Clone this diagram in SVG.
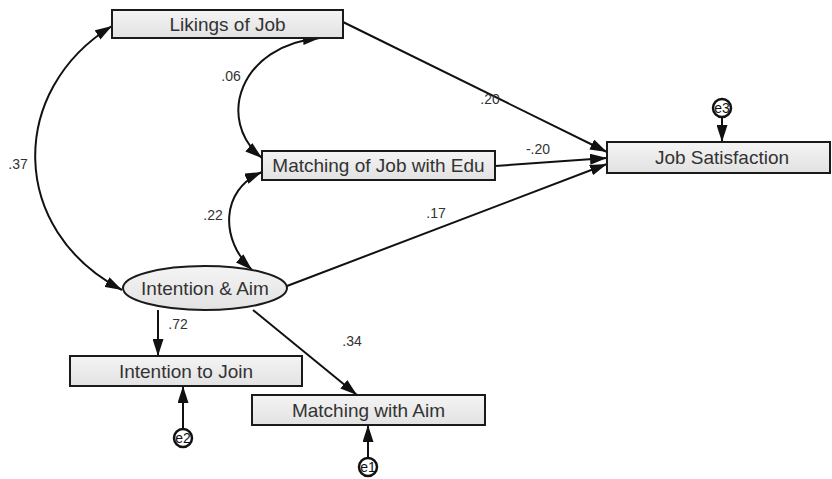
<svg xmlns="http://www.w3.org/2000/svg" width="832" height="479" viewBox="0 0 832 479">
<defs>
<linearGradient id="g" x1="0" y1="0" x2="0" y2="1">
<stop offset="0" stop-color="#f4f4f4"/><stop offset="1" stop-color="#e2e2e2"/>
</linearGradient>
<marker id="ah" viewBox="0 0 17 11" refX="17" refY="5.5" markerWidth="17" markerHeight="11" markerUnits="userSpaceOnUse" orient="auto-start-reverse">
<path d="M0,0 L17,5.5 L0,11 z" fill="#111"/>
</marker>
<style>
.box{fill:url(#g);stroke:#1a1a1a;stroke-width:2}
.nt{font-family:"Liberation Sans",Arial,sans-serif;font-size:19px;fill:#333;text-anchor:middle}
.lb{font-family:"Liberation Sans",Arial,sans-serif;font-size:14px;fill:#333;text-anchor:middle}
.ln{fill:none;stroke:#111;stroke-width:2}
.ec{fill:#fff;stroke:#111;stroke-width:2.5}
.et{font-family:"Liberation Sans",Arial,sans-serif;font-size:14px;fill:#111;text-anchor:middle}
</style>
</defs>
<rect width="832" height="479" fill="#fff"/>
<g id="connectors">
<path class="ln" d="M343,22 L607,152" marker-end="url(#ah)"/>
<path class="ln" d="M495,166 L607,158" marker-end="url(#ah)"/>
<path class="ln" d="M287,286 L607,164" marker-end="url(#ah)"/>
<path class="ln" d="M158,310 L158,356" marker-end="url(#ah)"/>
<path class="ln" d="M253,310 L357,395" marker-end="url(#ah)"/>
<path class="ln" d="M722,117 L722,142" marker-end="url(#ah)"/>
<path class="ln" d="M183,429 L183,386" marker-end="url(#ah)"/>
<path class="ln" d="M368,458 L368,425" marker-end="url(#ah)"/>
<path class="ln" d="M112,26 C8,90 8,230 122,290" marker-start="url(#ah)" marker-end="url(#ah)"/>
<path class="ln" d="M320,38 C240,45 215,120 262,158" marker-start="url(#ah)" marker-end="url(#ah)"/>
<path class="ln" d="M262,172 C220,190 220,240 252,270" marker-start="url(#ah)" marker-end="url(#ah)"/>
<text class="lb" x="490" y="104">.20</text>
<text class="lb" x="538" y="154">-.20</text>
<text class="lb" x="436" y="218">.17</text>
<text class="lb" x="231" y="81">.06</text>
<text class="lb" x="18" y="169">.37</text>
<text class="lb" x="213" y="220">.22</text>
<text class="lb" x="178" y="329">.72</text>
<text class="lb" x="352" y="346">.34</text>
</g>
<g id="likings"><rect class="box" x="112" y="10" width="231" height="28"/><text class="nt" x="227.5" y="31">Likings of Job</text></g>
<g id="jobsat"><rect class="box" x="607" y="142" width="223" height="31"/><text class="nt" x="722" y="164">Job Satisfaction</text></g>
<g id="matchedu"><rect class="box" x="262" y="151" width="233" height="29"/><text class="nt" x="378.5" y="172">Matching of Job with Edu</text></g>
<g id="intention"><ellipse cx="205" cy="288" rx="82" ry="22" class="box"/><text class="nt" x="205" y="294.5">Intention &amp; Aim</text></g>
<g id="join"><rect class="box" x="70" y="356" width="232" height="30"/><text class="nt" x="186" y="377.5">Intention to Join</text></g>
<g id="matchaim"><rect class="box" x="252" y="395" width="233" height="30"/><text class="nt" x="368.5" y="416.5">Matching with Aim</text></g>
<g id="e3"><circle class="ec" cx="722" cy="108" r="9"/><text class="et" x="722" y="113">e3</text></g>
<g id="e2"><circle class="ec" cx="183" cy="438" r="9"/><text class="et" x="183" y="443">e2</text></g>
<g id="e1"><circle class="ec" cx="368" cy="467" r="9"/><text class="et" x="368" y="472">e1</text></g>
</svg>
